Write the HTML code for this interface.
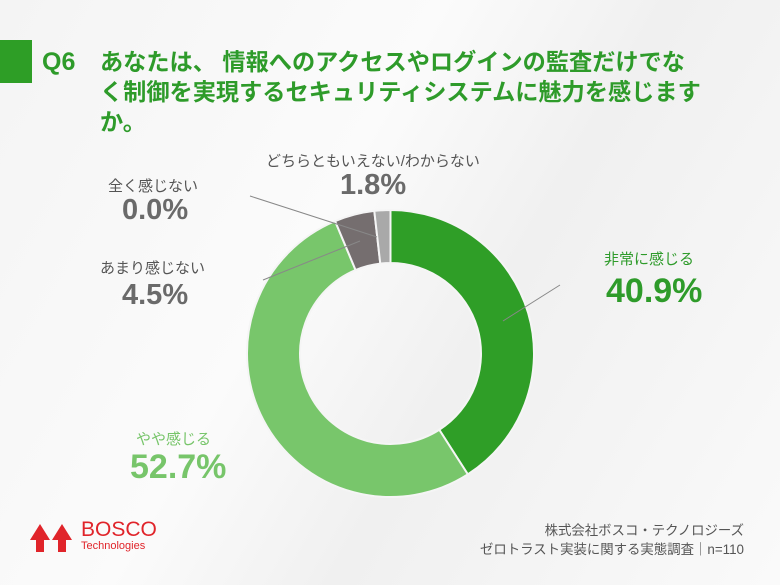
<!DOCTYPE html>
<html><head><meta charset="utf-8"><style>
body{margin:0;width:780px;height:585px;overflow:hidden;font-family:"Liberation Sans","Noto Sans CJK JP",sans-serif;background:linear-gradient(120deg,#f4f4f4 0%,#fbfbfb 40%,#f0f0f0 60%,#fafafa 100%);position:relative}
.t{position:absolute;white-space:nowrap}
</style></head><body>
<div class="t" style="left:0;top:40px;width:32px;height:43px;background:#2e9e26"></div>
<div class="t" style="left:42px;top:48px;font-size:25px;font-weight:bold;color:#2e9b2a">Q6</div>
<div class="t" style="left:100px;top:47px;font-size:23.2px;line-height:30px;font-weight:bold;color:#2e9b2a">あなたは、 情報へのアクセスやログインの監査だけでな<br>く制御を実現するセキュリティシステムに魅力を感じます<br>か。</div>

<svg id="chart" width="780" height="585" style="position:absolute;left:0;top:0">
<g id="slices"></g>
<line x1="377" y1="237" x2="250" y2="196" stroke="#888" stroke-width="1"/>
<line x1="360" y1="241" x2="263" y2="280" stroke="#888" stroke-width="1"/>
<line x1="503" y1="321" x2="560" y2="285" stroke="#888" stroke-width="1"/>
</svg>

<div class="t" style="left:266px;top:150px;font-size:15px;color:#555">どちらともいえない/わからない</div>
<div class="t" style="left:340px;top:169px;font-size:29px;font-weight:bold;color:#6a6a6a">1.8%</div>
<div class="t" style="left:108px;top:175px;font-size:15px;color:#555">全く感じない</div>
<div class="t" style="left:122px;top:194px;font-size:29px;font-weight:bold;color:#6a6a6a">0.0%</div>
<div class="t" style="left:100px;top:257px;font-size:15px;color:#555">あまり感じない</div>
<div class="t" style="left:122px;top:279px;font-size:29px;font-weight:bold;color:#6a6a6a">4.5%</div>
<div class="t" style="left:604px;top:248px;font-size:15px;color:#2e9b2a">非常に感じる</div>
<div class="t" style="left:606px;top:272px;font-size:34px;font-weight:bold;color:#2e9b2a">40.9%</div>
<div class="t" style="left:136px;top:428px;font-size:15px;color:#77c56a">やや感じる</div>
<div class="t" style="left:130px;top:448px;font-size:34px;font-weight:bold;color:#77c56a">52.7%</div>

<div class="t" style="left:28px;top:522px">
<svg width="48" height="30"><polygon points="12,2 22,18 16,18 16,30 8,30 8,18 2,18" fill="#e0242a"/><polygon points="34,2 44,18 38,18 38,30 30,30 30,18 24,18" fill="#e0242a"/></svg>
</div>
<div class="t" style="left:81px;top:519px;font-size:21px;color:#e0242a;line-height:21px">BOSCO</div>
<div class="t" style="left:81px;top:540px;font-size:11px;color:#e0242a">Technologies</div>
<div class="t" style="right:36px;top:521px;font-size:13.4px;line-height:19px;color:#555;text-align:right">株式会社ボスコ・テクノロジーズ<br>ゼロトラスト実装に関する実態調査｜n=110</div>

<script>
const categories=["非常に感じる","やや感じる","あまり感じない","全く感じない","どちらともいえない/わからない"];
const values=[40.9,52.7,4.5,0.0,1.8];
const colors=["#2f9e27","#78c66b","#756e6f","#999","#a9a9a9"];
const cx=390.5,cy=353.5,R=143.5,r=90.5;
const g=document.getElementById('slices');
const total=values.reduce((a,b)=>a+b,0);
let a0=0;
function pt(rad,a){return [cx+rad*Math.sin(a),cy-rad*Math.cos(a)];}
values.forEach((v,i)=>{
  const a1=a0+v/total*2*Math.PI;
  if(v>0){
    const big=(a1-a0)>Math.PI?1:0;
    const p1=pt(R,a0),p2=pt(R,a1),p3=pt(r,a1),p4=pt(r,a0);
    const p=document.createElementNS('http://www.w3.org/2000/svg','path');
    p.setAttribute('d',`M${p1}A${R},${R} 0 ${big} 1 ${p2}L${p3}A${r},${r} 0 ${big} 0 ${p4}Z`);
    p.setAttribute('fill',colors[i]);
    p.setAttribute('stroke','#f5f5f5');
    p.setAttribute('stroke-width','2');
    
    
    g.appendChild(p);
  }
  a0=a1;
});
</script>
</body></html>
